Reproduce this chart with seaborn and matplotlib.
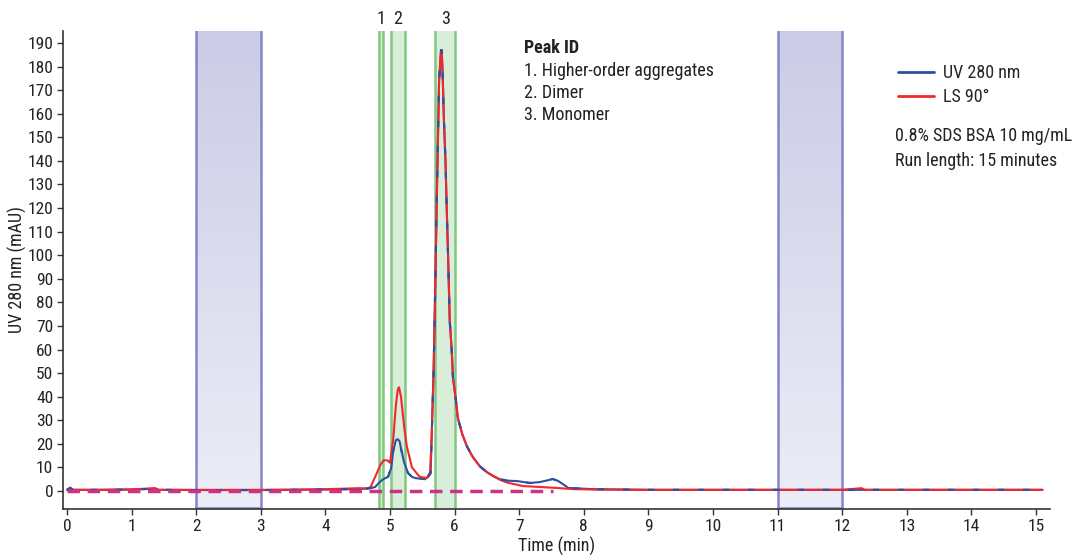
import numpy as np
import pandas as pd
import matplotlib
matplotlib.use("Agg")
import matplotlib.pyplot as plt
from matplotlib import font_manager
from matplotlib.colors import LinearSegmentedColormap
from matplotlib.lines import Line2D
import seaborn as sns

# ---------------- data ----------------
uv_time = [0, 0.05, 0.1, 0.5, 1.0, 1.37, 1.42, 2, 3, 4, 4.4, 4.6, 4.7, 4.77, 4.83, 4.88,
           4.93, 4.97, 5.02, 5.05, 5.09, 5.12, 5.15, 5.17, 5.22, 5.28, 5.34, 5.39, 5.47,
           5.54, 5.59, 5.63, 5.645, 5.66, 5.675, 5.69, 5.71, 5.725, 5.76, 5.79, 5.80, 5.815,
           5.835, 5.86, 5.88, 5.90, 5.925, 5.955, 5.975, 6.02, 6.05, 6.12, 6.19, 6.28, 6.39,
           6.5, 6.6, 6.7, 6.81, 6.97, 7.17, 7.32, 7.45, 7.52, 7.6, 7.7, 7.76, 8.14, 9, 10, 11,
           12, 13, 14, 15.1]
uv_values = [0.5, 1.2, 0.5, 0.5, 0.6, 1.0, 0.5, 0.4, 0.4, 0.6, 0.8, 1.0, 1.2, 1.7, 3.5, 4.7,
             5.5, 6, 10, 17, 21.5, 22, 21, 18, 12, 7.6, 6, 5.5, 5.2,
             5, 6, 7.6, 23, 37, 51, 72, 101, 125, 174, 187, 187, 177,
             157, 139, 118, 99, 72, 60, 48, 38.6, 31, 24, 19, 14.5, 10.5,
             8, 6.3, 5.0, 4.4, 4.2, 3.4, 3.8, 4.6, 5.1, 4.3, 2.5, 1.3, 0.8, 0.5, 0.5, 0.5,
             0.5, 0.5, 0.5, 0.5]

ls_time = [0, 0.05, 0.08, 0.5, 1.0, 1.37, 1.4, 2, 3, 3.5, 4.0, 4.3, 4.5, 4.65, 4.7, 4.77,
           4.85, 4.9, 4.96, 5.0, 5.05, 5.09, 5.12, 5.14, 5.17, 5.22, 5.26, 5.34, 5.46, 5.57,
           5.62, 5.645, 5.66, 5.675, 5.69, 5.71, 5.725, 5.76, 5.79, 5.80, 5.815, 5.835, 5.86,
           5.88, 5.90, 5.925, 5.955, 5.975, 6.02, 6.05, 6.12, 6.19, 6.28, 6.39, 6.5, 6.6,
           6.7, 6.81, 7.06, 7.58, 7.83, 8.2, 9, 10, 11, 12, 12.3, 12.35, 13, 14, 15.1]
ls_values = [0.5, 1.5, 0.5, 0.5, 0.7, 1.2, 0.5, 0.5, 0.5, 0.6, 0.8, 1.0, 1.2, 1.0, 1.7, 6,
             11, 13, 13, 12, 22, 36, 43, 44, 40, 27, 19, 10, 6, 5.5,
             8, 23, 37, 51, 72, 101, 125, 174, 187, 187, 177, 157, 139,
             118, 99, 72, 60, 48, 38.6, 31, 24, 19, 14.5, 10.5, 8, 6.3,
             4.8, 3.6, 2.1, 1.3, 0.8, 0.6, 0.5, 0.5, 0.5, 0.5, 1.2, 0.5, 0.5, 0.5, 0.5]

baseline_time = [0, 7.52]
baseline_values = [0, 0]

peak_labels = ["1", "2", "3"]
peak_windows = [(4.83, 4.89), (5.02, 5.23), (5.70, 6.01)]
blank_windows = [(2, 3), (11, 12)]

x_ticks = list(range(0, 16))
y_ticks = list(range(0, 200, 10))

peak_id_lines = ["1. Higher-order aggregates", "2. Dimer", "3. Monomer"]
series_names = ["UV 280 nm", "LS 90°"]
notes = ["0.8% SDS BSA 10 mg/mL", "Run length: 15 minutes"]

# ---------------- style ----------------
sns.set_style("ticks")
fm = font_manager.fontManager
names = {f.name for f in fm.ttflist}
stretch = "normal"
fam = None
for cand in ["Roboto Condensed", "Liberation Sans Narrow", "Noto Sans Condensed",
             "Open Sans Condensed", "Arial Narrow"]:
    if cand in names:
        fam = cand
        break
if fam is None:
    cond = [f for f in fm.ttflist
            if f.name in ("Noto Sans", "Open Sans", "Roboto")
            and str(f.stretch) in ("condensed", "semi-condensed", "75", "87")]
    if cond:
        fam = cond[0].name
        stretch = "condensed"
if fam is None:
    fam = "Roboto" if "Roboto" in names else "DejaVu Sans"
plt.rcParams["font.family"] = [fam, "DejaVu Sans"]
plt.rcParams["font.stretch"] = stretch
narrow = fam != "Roboto" and fam != "DejaVu Sans"
FS = 13 if narrow else 11.5
TFS = 12.5 if narrow else 11.5

UV_C = "#2d4fa3"
LS_C = "#f0282d"
BASE_C = "#cc3388"
TXT = "#222222"

fig = plt.figure(figsize=(10.84, 5.55), dpi=100)
ax = fig.add_axes([63 / 1084, 1 - 509 / 555, (1050 - 63) / 1084, (509 - 31) / 555])
xlim = (-0.062, 15.217)
ylim = (-7.63, 195.1)

# blank windows (gradient)
cmap = LinearSegmentedColormap.from_list("g", ["#ededf7", "#cbcbe6"])
grad = np.linspace(0, 1, 256).reshape(-1, 1)
for a, b in blank_windows:
    ax.imshow(grad, extent=[a, b, ylim[0], ylim[1]], origin="lower", aspect="auto",
              cmap=cmap, zorder=0.5)
    for xv in (a, b):
        ax.axvline(xv, color="#8585c8", lw=1.8, zorder=0.6)
    ax.plot([a, b], [ylim[0] + 0.4, ylim[0] + 0.4], color="#8585c8", lw=1.8, zorder=0.6)

# peak windows
for (a, b), lab in zip(peak_windows, peak_labels):
    ax.axvspan(a, b, color="#d3ebd3", alpha=0.85, lw=0, zorder=0.7)
    for xv in (a, b):
        ax.axvline(xv, color="#80c880", lw=1.8, zorder=0.8)
    ax.text((a + b) / 2, ylim[1] + 1.2, lab, ha="center", va="bottom", fontsize=FS,
            color=TXT)

df_uv = pd.DataFrame({"t": uv_time, "v": uv_values})
df_ls = pd.DataFrame({"t": ls_time, "v": ls_values})
df_base = pd.DataFrame({"t": baseline_time, "v": baseline_values})

sns.lineplot(data=df_uv, x="t", y="v", ax=ax, color=UV_C, lw=1.5, estimator=None,
             sort=False, zorder=2)
sns.lineplot(data=df_ls, x="t", y="v", ax=ax, color=LS_C, lw=1.5, estimator=None,
             sort=False, zorder=3)
sns.lineplot(data=df_uv, x="t", y="v", ax=ax, color=UV_C, lw=1.5, estimator=None,
             sort=False, zorder=4, linestyle=(0, (3, 9)))
sns.lineplot(data=df_base, x="t", y="v", ax=ax, color=BASE_C, lw=2.5, estimator=None,
             sort=False, zorder=5, linestyle=(0, (3.6, 2.2)))

ax.set_xlim(*xlim)
ax.set_ylim(*ylim)
ax.set_xticks(x_ticks)
ax.set_yticks(y_ticks)
ax.tick_params(labelsize=TFS, length=4, width=1, color="#333333", labelcolor=TXT, pad=3)
for s in ["top", "right"]:
    ax.spines[s].set_visible(False)
for s in ["left", "bottom"]:
    ax.spines[s].set_color("#333333")
    ax.spines[s].set_linewidth(1.2)
ax.set_xlabel("Time (min)", fontsize=FS, color=TXT, labelpad=2)
ax.set_ylabel("UV 280 nm (mAU)", fontsize=FS, color=TXT, va="center")
ax.yaxis.set_label_coords(-0.046, 0.5)

# Peak ID text
ax.text(7.07, 188, "Peak ID", fontsize=FS, fontweight="bold", color=TXT,
        ha="left", va="center")
for i, line in enumerate(peak_id_lines):
    ax.text(7.07, 178.3 - i * 9.33, line, fontsize=FS, color=TXT, ha="left",
            va="center")

# legend
handles = [Line2D([0], [0], color=UV_C, lw=2), Line2D([0], [0], color=LS_C, lw=2)]
ax.legend(handles, series_names, loc="upper left", bbox_to_anchor=(0.846, 0.93),
          frameon=False, fontsize=FS, handlelength=2.0, handletextpad=0.5,
          labelspacing=0.3, borderaxespad=0, borderpad=0)
for i, n in enumerate(notes):
    ax.text(12.82, 150.5 - i * 10.6, n, fontsize=FS, color=TXT, ha="left",
            va="center")

fig.savefig("out.png", dpi=100)
